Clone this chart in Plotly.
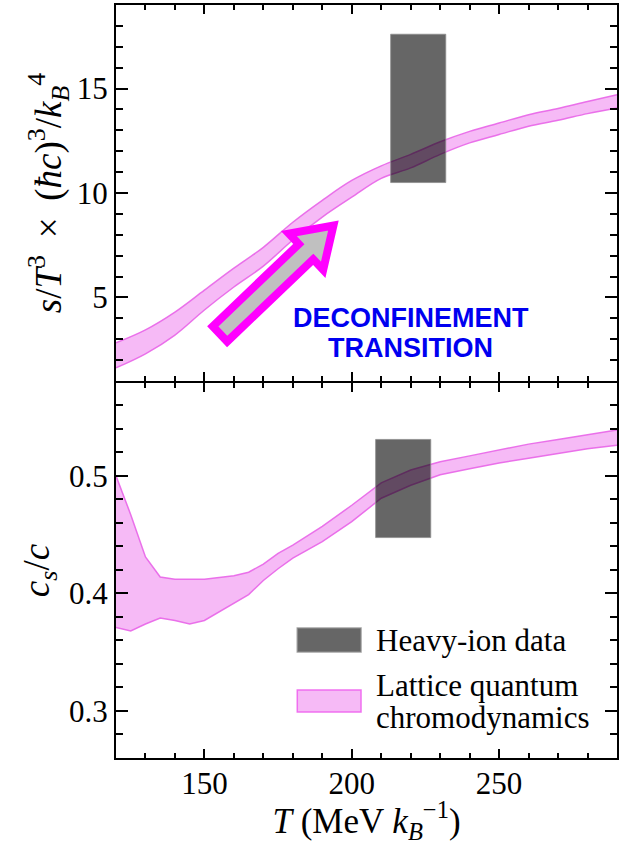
import numpy as np
import plotly.graph_objects as go

# ---- Lattice QCD entropy density band, s/T^3 (upper / lower edges) ----
T_entropy = [120, 130, 140, 150, 160, 170, 180, 190, 200, 210,
             220, 230, 240, 250, 260, 270, 280, 290]
s_upper = [2.83, 3.45, 4.30, 5.35, 6.40, 7.40, 8.60, 9.65, 10.60, 11.30,
           11.85, 12.45, 12.95, 13.35, 13.75, 14.05, 14.38, 14.70]
s_lower = [1.63, 2.30, 3.20, 4.40, 5.50, 6.50, 7.75, 8.85, 9.80, 10.70,
           11.20, 11.85, 12.40, 12.80, 13.20, 13.48, 13.80, 14.07]

# ---- Lattice QCD speed of sound band, c_s/c (upper / lower edges) ----
T_sound = [120, 125, 130, 135, 140, 145, 150, 160, 165, 170, 175, 180,
           190, 200, 210, 220, 230, 240, 250, 260, 270, 280, 290]
cs_upper = [0.500, 0.467, 0.431, 0.414, 0.412, 0.412, 0.412, 0.415, 0.418,
            0.425, 0.434, 0.441, 0.457, 0.475, 0.494, 0.505, 0.512, 0.517,
            0.522, 0.527, 0.531, 0.535, 0.539]
cs_lower = [0.371, 0.368, 0.374, 0.379, 0.377, 0.374, 0.377, 0.392, 0.399,
            0.411, 0.421, 0.430, 0.444, 0.461, 0.481, 0.492, 0.501, 0.506,
            0.511, 0.515, 0.519, 0.523, 0.526]

# ---- Heavy-ion constraints (T range and value range) ----
heavy_T_entropy = [213.2, 231.9]
heavy_s = [10.5, 17.6]
heavy_T_sound = [208.1, 226.8]
heavy_cs = [0.4475, 0.531]

# ---- Axes ----
T_range = [120, 290]
s_range = [1, 19]
cs_range = [0.26, 0.579]
T_ticks = [150, 200, 250]
s_ticks = [5, 10, 15]
cs_ticks = [0.3, 0.4, 0.5]

BAND_FILL = "rgba(238,130,238,0.55)"
BAND_EDGE = "rgba(232,100,232,0.9)"
BOX_FILL = "rgba(0,0,0,0.6)"
BOX_EDGE = "rgba(140,140,140,0.8)"
SERIF = "Liberation Serif"

W, H = 619, 845
ML, MR, MT, MB = 116, 0, 5, 87
PW, PH = W - ML - MR, H - MT - MB
TOP_START = 377 / PH   # lower edge of the upper panel
BOT_END = 375 / PH     # upper edge of the lower panel (shared frame line)

fig = go.Figure()


def band(T, lo, hi, xa, ya, shape):
    fig.add_trace(go.Scatter(x=T, y=lo, mode="lines", xaxis=xa, yaxis=ya,
                             line=dict(color=BAND_EDGE, width=1.5, shape=shape),
                             showlegend=False, hoverinfo="skip"))
    fig.add_trace(go.Scatter(x=T, y=hi, mode="lines", xaxis=xa, yaxis=ya,
                             fill="tonexty", fillcolor=BAND_FILL,
                             line=dict(color=BAND_EDGE, width=1.5, shape=shape),
                             showlegend=False, hoverinfo="skip"))


def box(Tr, vr, xa, ya):
    fig.add_trace(go.Scatter(
        x=[Tr[0], Tr[1], Tr[1], Tr[0], Tr[0]],
        y=[vr[0], vr[0], vr[1], vr[1], vr[0]],
        mode="lines", fill="toself", fillcolor=BOX_FILL,
        line=dict(color=BOX_EDGE, width=1), xaxis=xa, yaxis=ya,
        showlegend=False, hoverinfo="skip"))


band(T_entropy, s_lower, s_upper, "x", "y", "spline")
box(heavy_T_entropy, heavy_s, "x", "y")
band(T_sound, cs_lower, cs_upper, "x2", "y2", "linear")
box(heavy_T_sound, heavy_cs, "x2", "y2")


# pixel -> data conversion for the upper panel (used for the arrow outline)
def top_px_to_data(px, py):
    top_h = PH * (1 - TOP_START)
    x = T_range[0] + (px - ML) / PW * (T_range[1] - T_range[0])
    y = s_range[1] - (py - MT) / top_h * (s_range[1] - s_range[0])
    return x, y


def px_to_paper(px, py):
    return (px - ML) / PW, (H - MB - py) / PH


# block arrow marking the deconfinement transition
tail = np.array([220.4, 333.9])
tip = np.array([334.3, 225.5])
u = (tip - tail) / np.linalg.norm(tip - tail)
n = np.array([-u[1], u[0]])
shaft_hw, head_hw, head_len = 10.5, 25.0, 38.0
base = tip - head_len * u
pts = [tail + shaft_hw * n, base + shaft_hw * n, base + head_hw * n, tip,
       base - head_hw * n, base - shaft_hw * n, tail - shaft_hw * n]
path = "M " + " L ".join("{:.4f},{:.4f}".format(*top_px_to_data(*p)) for p in pts) + " Z"
fig.add_shape(type="path", path=path, xref="x", yref="y", layer="above",
              fillcolor="#c0c0c0", line=dict(color="#ff00ff", width=8))

for text, yc in [("DECONFINEMENT", 318), ("TRANSITION", 348)]:
    fig.add_annotation(x=top_px_to_data(412, 0)[0], y=top_px_to_data(0, yc)[1],
                       xref="x", yref="y", showarrow=False, yanchor="middle",
                       text="<b>" + text + "</b>",
                       font=dict(family="Liberation Sans", size=27, color="#0000f0"))

# legend drawn inside the lower panel
legend_rows = [
    (628, 652, BOX_FILL, BOX_EDGE, [("Heavy-ion data", 640)]),
    (690, 712, BAND_FILL, "rgba(238,100,238,0.9)",
     [("Lattice quantum", 685), ("chromodynamics", 717)]),
]
for y0, y1, fc, lc, labels in legend_rows:
    x0p, y0p = px_to_paper(298, y1)
    x1p, y1p = px_to_paper(362, y0)
    fig.add_shape(type="rect", xref="paper", yref="paper", x0=x0p, x1=x1p,
                  y0=y0p, y1=y1p, fillcolor=fc, line=dict(color=lc, width=1.5))
    for text, yc in labels:
        xp, yp = px_to_paper(375, yc)
        fig.add_annotation(x=xp, y=yp, xref="paper", yref="paper",
                           xanchor="left", yanchor="middle", showarrow=False,
                           text=text, font=dict(family=SERIF, size=31, color="black"))

common = dict(showline=True, linewidth=2, linecolor="black", mirror="allticks",
              ticks="inside", tickcolor="black", showgrid=False, zeroline=False,
              tickfont=dict(family=SERIF, size=31, color="black"))
xcommon = dict(common, range=T_range, tickvals=T_ticks, ticklen=9, tickwidth=2,
               minor=dict(ticks="inside", dtick=10, tick0=0, ticklen=5,
                          tickwidth=1.5, tickcolor="black"))

SP = "\u2009"
fig.update_layout(
    width=W, height=H,
    margin=dict(l=ML, r=MR, t=MT, b=MB),
    paper_bgcolor="white", plot_bgcolor="white",
    showlegend=False,
    xaxis=dict(xcommon, domain=[0, 1], anchor="y", matches="x2",
               showticklabels=False),
    yaxis=dict(common, domain=[TOP_START, 1], anchor="x", range=s_range,
               tickvals=s_ticks, ticklen=12, tickwidth=2,
               minor=dict(ticks="inside", dtick=1, tick0=0, ticklen=7,
                          tickwidth=1.5, tickcolor="black"),
               title=dict(text="<i>s</i>/<i>T</i><sup>3</sup>" + SP + " × " + SP
                          + "(<i>ħc</i>)<sup>3</sup>/<i>k</i><sub><i>B</i></sub><sup>4</sup>",
                          font=dict(family=SERIF, size=37, color="black"),
                          standoff=4)),
    xaxis2=dict(xcommon, domain=[0, 1], anchor="y2", ticklabelstandoff=-3,
                title=dict(text="<i>T</i> (MeV <i>k</i><sub><i>B</i></sub><sup>−1</sup>)",
                           font=dict(family=SERIF, size=35, color="black"),
                           standoff=12)),
    yaxis2=dict(common, domain=[0, BOT_END], anchor="x2", range=cs_range,
                tickvals=cs_ticks, ticklen=12, tickwidth=2,
                minor=dict(ticks="inside", dtick=0.02, tick0=0, ticklen=7,
                           tickwidth=1.5, tickcolor="black"),
                title=dict(text="<i>c</i><sub><i>s</i></sub>/<i>c</i>",
                           font=dict(family=SERIF, size=37, color="black"),
                           standoff=8)),
)

fig.write_html("out.html")
